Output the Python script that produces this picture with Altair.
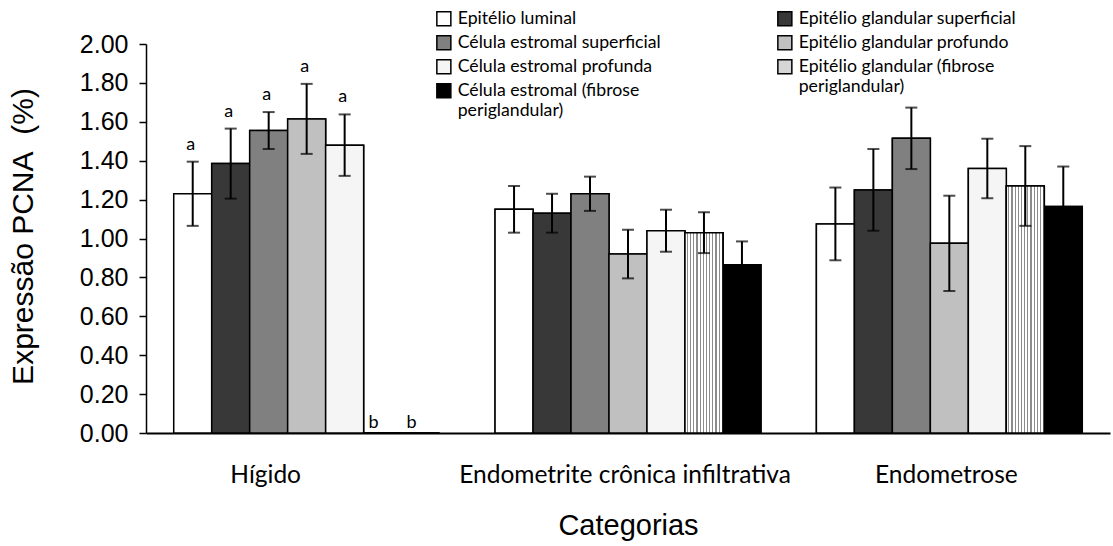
import altair as alt
import pandas as pd

groups = ["Hígido", "Endometrite crônica infiltrativa", "Endometrose"]

series = [
    "Epitélio luminal",
    "Epitélio glandular superficial",
    "Célula estromal superficial",
    "Epitélio glandular profundo",
    "Célula estromal profunda",
    "Epitélio glandular (fibrose periglandular)",
    "Célula estromal (fibrose periglandular)",
]

# mean values per series, in the order of `groups`
mean_luminal = [1.23, 1.15, 1.075]
mean_gland_sup = [1.385, 1.13, 1.25]
mean_strom_sup = [1.555, 1.23, 1.515]
mean_gland_prof = [1.615, 0.92, 0.975]
mean_strom_prof = [1.48, 1.04, 1.36]
mean_gland_fib = [0.0, 1.03, 1.27]
mean_strom_fib = [0.0, 0.865, 1.165]

# error (half-length of error bar)
err_luminal = [0.165, 0.12, 0.187]
err_gland_sup = [0.18, 0.10, 0.21]
err_strom_sup = [0.095, 0.088, 0.158]
err_gland_prof = [0.18, 0.125, 0.245]
err_strom_prof = [0.158, 0.108, 0.153]
err_gland_fib = [0.0, 0.105, 0.205]
err_strom_fib = [0.0, 0.12, 0.205]

# significance letters (Hígido only)
letters_higido = ["a", "a", "a", "a", "a", "b", "b"]

y_ticks = [0.0, 0.2, 0.4, 0.6, 0.8, 1.0, 1.2, 1.4, 1.6, 1.8, 2.0]

means = [mean_luminal, mean_gland_sup, mean_strom_sup, mean_gland_prof,
         mean_strom_prof, mean_gland_fib, mean_strom_fib]
errs = [err_luminal, err_gland_sup, err_strom_sup, err_gland_prof,
        err_strom_prof, err_gland_fib, err_strom_fib]

fill_colors = ["#ffffff", "#383838", "#808080", "#c0c0c0", "#f5f5f5", "#d6d6d6", "#000000"]

rows = []
for si, s in enumerate(series):
    for gi, g in enumerate(groups):
        m = means[si][gi]
        e = errs[si][gi]
        rows.append({
            "group": g, "series": s, "mean": m, "err": e,
            "lo": m - e, "hi": m + e,
            "letter": letters_higido[si] if gi == 0 else "",
        })
df = pd.DataFrame(rows)

left_vals = [series[0], series[2], series[4], series[6]]
right_vals = [series[1], series[3], series[5]]

label_expr = ("indexof(datum.label, '(fibrose') > 0 ? "
              "split(replace(datum.label, ' periglandular)', '|periglandular)'), '|') : datum.label")

leg_common = dict(
    title=None, orient="none", direction="vertical",
    symbolType="square", symbolSize=196, symbolStrokeColor="black", symbolStrokeWidth=1.5,
    labelFont="Lato", labelFontSize=17.7, labelColor="black", labelLimit=400,
    labelOffset=5, rowPadding=3, padding=0,
    labelExpr=label_expr,
)

W, H = 964, 389

x_enc = alt.X("group:N", sort=groups,
              scale=alt.Scale(domain=groups, paddingInner=0, paddingOuter=0),
              axis=alt.Axis(title="Categorias", ticks=False, tickSize=0, labelAngle=0,
                            labelFont="Lato", labelFontSize=24.5, labelColor="black",
                            labelPadding=42, labelBaseline="middle", labelLimit=0,
                            labelOffset={"condition": {"test": "datum.label == 'Hígido'", "value": -41},
                                         "value": -3},
                            domainColor="black", domainWidth=2,
                            titleFont="Liberation Sans", titleFontSize=29,
                            titleFontWeight="normal", titleColor="black",
                            titleY=92, titleBaseline="middle"))
xoff = alt.XOffset("series:N", sort=series,
                   scale=alt.Scale(domain=series, paddingInner=0, paddingOuter=0.73))

y_scale = alt.Scale(domain=[0, 2], nice=False, zero=True)
y_axis = alt.Axis(title="Expressão PCNA\u00a0\u00a0(%)", values=y_ticks, tickCount=20,
                  format=".2f", grid=False, tickSize=7, tickWidth=1.5, tickColor="black",
                  domainColor="black", domainWidth=1.5, labelOverlap=False,
                  labelFont="Liberation Sans", labelFontSize=25, labelColor="black",
                  labelPadding=11,
                  titleFont="Liberation Sans", titleFontSize=30,
                  titleFontWeight="normal", titleColor="black",
                  titleX=-123, titleY=192, titleAngle=-90,
                  titleAlign="center", titleBaseline="middle")


def Y(field):
    return alt.Y(field, scale=y_scale, axis=y_axis)


base = alt.Chart(df)

bars_left = base.mark_bar(stroke="black", strokeWidth=1.5).encode(
    x=x_enc, xOffset=xoff, y=Y("mean:Q"),
    fill=alt.Fill("series:N", sort=series,
                  scale=alt.Scale(domain=series, range=fill_colors),
                  legend=alt.Legend(values=left_vals, legendX=289, legendY=-34, **leg_common)),
)

bars_right = base.mark_bar(stroke="black", strokeWidth=1.5).encode(
    x=x_enc, xOffset=xoff, y=Y("mean:Q"),
    color=alt.Color("series:N", sort=series,
                    scale=alt.Scale(domain=series, range=fill_colors),
                    legend=alt.Legend(values=right_vals, legendX=630, legendY=-34, **leg_common)),
)

# hatched pattern imitation for "Epitélio glandular (fibrose periglandular)"
stops = []
n = 12
for i in range(n):
    a = i / n
    b = a + 0.6 / n
    c = (i + 1) / n
    stops += [alt.GradientStop(offset=a, color="#ffffff"), alt.GradientStop(offset=b, color="#ffffff"),
              alt.GradientStop(offset=b, color="#8c8c8c"), alt.GradientStop(offset=c, color="#8c8c8c")]
hatch = alt.LinearGradient(gradient="linear", stops=stops, x1=0, x2=1, y1=0, y2=0)

bars_hatch = base.transform_filter(
    alt.datum.series == series[5]
).mark_bar(stroke="black", strokeWidth=1.5, fill=hatch).encode(
    x=x_enc, xOffset=xoff, y=Y("mean:Q"),
)

eb = base.transform_filter(alt.datum.err > 0)
err_rule = eb.mark_rule(color="black", strokeWidth=2).encode(
    x=x_enc, xOffset=xoff, y=Y("lo:Q"), y2="hi:Q")
cap_hi = eb.mark_tick(color="black", thickness=2, size=12).encode(
    x=x_enc, xOffset=xoff, y=Y("hi:Q"))
cap_lo = eb.mark_tick(color="black", thickness=2, size=12).encode(
    x=x_enc, xOffset=xoff, y=Y("lo:Q"))

txt_a = base.transform_filter(alt.datum.letter == "a").mark_text(
    font="Lato", fontSize=18, color="black", dy=-17, dx=-2, baseline="middle").encode(
    x=x_enc, xOffset=xoff, y=Y("hi:Q"), text="letter:N")
txt_b = base.transform_filter(alt.datum.letter == "b").mark_text(
    font="Lato", fontSize=18, color="black", dy=-10, dx=-9, baseline="middle").encode(
    x=x_enc, xOffset=xoff, y=Y("hi:Q"), text="letter:N")

chart = alt.layer(
    bars_left, bars_right, bars_hatch, err_rule, cap_hi, cap_lo, txt_a, txt_b
).resolve_scale(fill="independent", color="independent").properties(
    width=W, height=H,
    autosize=alt.AutoSizeParams(type="none"),
    padding={"left": 146, "top": 44, "right": 1113 - 146 - W, "bottom": 546 - 44 - H},
    background="white",
).configure_view(stroke=None)

chart.save("out.html", embed_options={"renderer": "svg", "actions": False})
